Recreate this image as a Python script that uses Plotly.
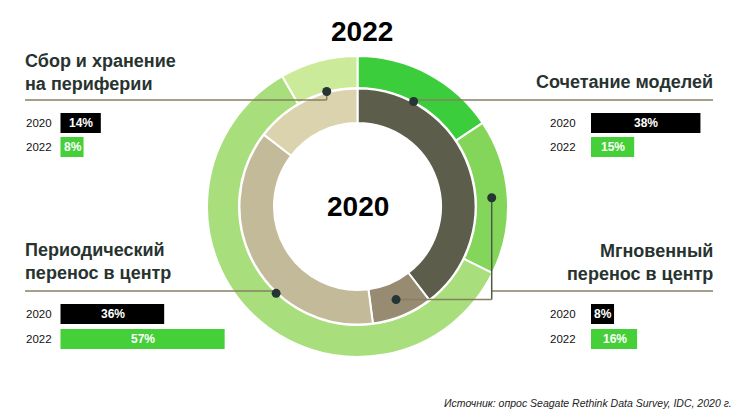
import math
import plotly.graph_objects as go

# ---------------- data ----------------
categories = ["Сочетание моделей", "Мгновенный перенос в центр",
              "Периодический перенос в центр", "Сбор и хранение на периферии"]
label_text = ["Сочетание моделей", "Мгновенный<br>перенос в центр",
              "Периодический<br>перенос в центр", "Сбор и хранение<br>на периферии"]
v2020 = [38, 8, 36, 14]
v2022 = [15, 16, 57, 8]
years = ["2020", "2022"]
colors_2020 = ["#5c5d4b", "#978b72", "#c2ba98", "#dbd3ae"]
colors_2022 = ["#3bcd3b", "#84d65b", "#a9de7d", "#cbeb9a"]
bar_colors = ["#000000", "#45cf39"]
source = "Источник: опрос Seagate Rethink Data Survey, IDC, 2020 г."

# ---------------- layout geometry (pixels) ----------------
W, H = 746, 414
cx, cy = 357.5, 206.5
R_out, R_mid_o, R_mid_i, R_in = 150.5, 118.5, 118.0, 83.5
FONT = "Liberation Sans, Arial, sans-serif"
TITLE_COLOR = "#27332f"
LINE_COLOR = "#878062"
DOT_COLOR = "#243534"

def dom(r):
    return dict(x=[(cx - r) / W, (cx + r) / W],
                y=[(H - cy - r) / H, (H - cy + r) / H])

fig = go.Figure()

fig.add_trace(go.Pie(values=v2022, labels=categories, sort=False,
                     direction="clockwise", rotation=0, hole=R_mid_o / R_out,
                     domain=dom(R_out), textinfo="none", hoverinfo="skip",
                     marker=dict(colors=colors_2022, line=dict(color="white", width=2)),
                     showlegend=False))
fig.add_trace(go.Pie(values=v2020, labels=categories, sort=False,
                     direction="clockwise", rotation=0, hole=R_in / R_mid_i,
                     domain=dom(R_mid_i), textinfo="none", hoverinfo="skip",
                     marker=dict(colors=colors_2020, line=dict(color="white", width=2)),
                     showlegend=False))

def mid_angle(vals, i):
    tot = sum(vals)
    start = sum(vals[:i])
    return (start + vals[i] / 2) / tot * 2 * math.pi

def polar(r, a):
    return cx + r * math.sin(a), cy - r * math.cos(a)

# group placement: (label x anchor, side, line y, bar base, bar y centres)
groups = {
    0: dict(side="right", lx=713, ly=100, base=591, ycs=[123, 147], ty=81.7, yx=548),
    1: dict(side="right", lx=713, ly=291, base=591, ycs=[314, 339], ty=262.5, yx=548),
    2: dict(side="left", lx=25, ly=291, base=60.5, ycs=[314, 339], ty=261, yx=24),
    3: dict(side="left", lx=25, ly=100, base=60.5, ycs=[123, 147], ty=72, yx=24),
}
px_per_pct = 2.88

shapes = []
annotations = []

def line(x0, y0, x1, y1, color=LINE_COLOR):
    shapes.append(dict(type="line", xref="x", yref="y", x0=x0, y0=y0, x1=x1, y1=y1,
                       line=dict(color=color, width=1.5), layer="above"))

def dot(x, y):
    r = 4.5
    shapes.append(dict(type="circle", xref="x", yref="y", x0=x - r, y0=y - r,
                       x1=x + r, y1=y + r, fillcolor=DOT_COLOR,
                       line=dict(width=0), layer="above"))

dots = []
for i, cat in enumerate(categories):
    g = groups[i]
    if i == 1:
        ox, oy = polar((R_out + R_mid_o) / 2, mid_angle(v2022, i))
        ix, iy = polar((R_mid_i + R_in) / 2, mid_angle(v2020, i))
        line(g["lx"], g["ly"], ox, g["ly"])
        line(ox, oy, ox, iy, "#4d5a48")
        line(ox, iy, ix, iy)
        dots += [(ox, oy), (ix, iy)]
    else:
        dx, dy = polar(R_mid_o + 0.5, mid_angle(v2022, i))
        line(g["lx"], g["ly"], dx, g["ly"])
        line(dx, g["ly"], dx, dy)
        dots.append((dx, dy))

    # category title
    tx = g["lx"] - 2 if g["side"] == "left" else g["lx"] + 2
    annotations.append(dict(x=tx, y=g["ty"], xref="x", yref="y",
                            text="<b>%s</b>" % label_text[i], showarrow=False,
                            xanchor=g["side"], yanchor="middle", align=g["side"],
                            font=dict(family=FONT, size=18, color=TITLE_COLOR)))
    # bars + year labels
    for k, vals in enumerate([v2020, v2022]):
        blen = vals[i] * px_per_pct
        fig.add_trace(go.Bar(x=[blen], y=[g["ycs"][k]], base=[g["base"]],
                             orientation="h", width=[20],
                             marker=dict(color=bar_colors[k], line=dict(width=0)),
                             hoverinfo="skip", showlegend=False))
        annotations.append(dict(x=g["base"] + blen / 2 + 0.5, y=g["ycs"][k], xref="x", yref="y",
                                text="<b>%d%%</b>" % vals[i], showarrow=False,
                                xanchor="center", yanchor="middle",
                                font=dict(family=FONT, size=12, color="white")))
        annotations.append(dict(x=g["yx"], y=g["ycs"][k], xref="x", yref="y",
                                text=years[k], showarrow=False, xanchor="left",
                                yanchor="middle",
                                font=dict(family=FONT, size=11.5, color="#111111")))

for (x, y) in dots:
    dot(x, y)

annotations.append(dict(x=cx + 4, y=31.5, xref="x", yref="y", text="<b>2022</b>",
                        showarrow=False, xanchor="center", yanchor="middle",
                        font=dict(family=FONT, size=28, color="#000000")))
annotations.append(dict(x=cx, y=206, xref="x", yref="y", text="<b>2020</b>",
                        showarrow=False, xanchor="center", yanchor="middle",
                        font=dict(family=FONT, size=28, color="#000000")))
annotations.append(dict(x=734, y=403, xref="x", yref="y", text="<i>%s</i>" % source,
                        showarrow=False, xanchor="right", yanchor="middle",
                        font=dict(family=FONT, size=10.5, color="#222222")))

fig.update_layout(
    width=W, height=H, margin=dict(l=0, r=0, t=0, b=0),
    paper_bgcolor="white", plot_bgcolor="white",
    xaxis=dict(range=[0, W], visible=False, fixedrange=True),
    yaxis=dict(range=[H, 0], visible=False, fixedrange=True),
    shapes=shapes, annotations=annotations, barmode="overlay",
)

fig.write_html("out.html", config={"displayModeBar": False})
